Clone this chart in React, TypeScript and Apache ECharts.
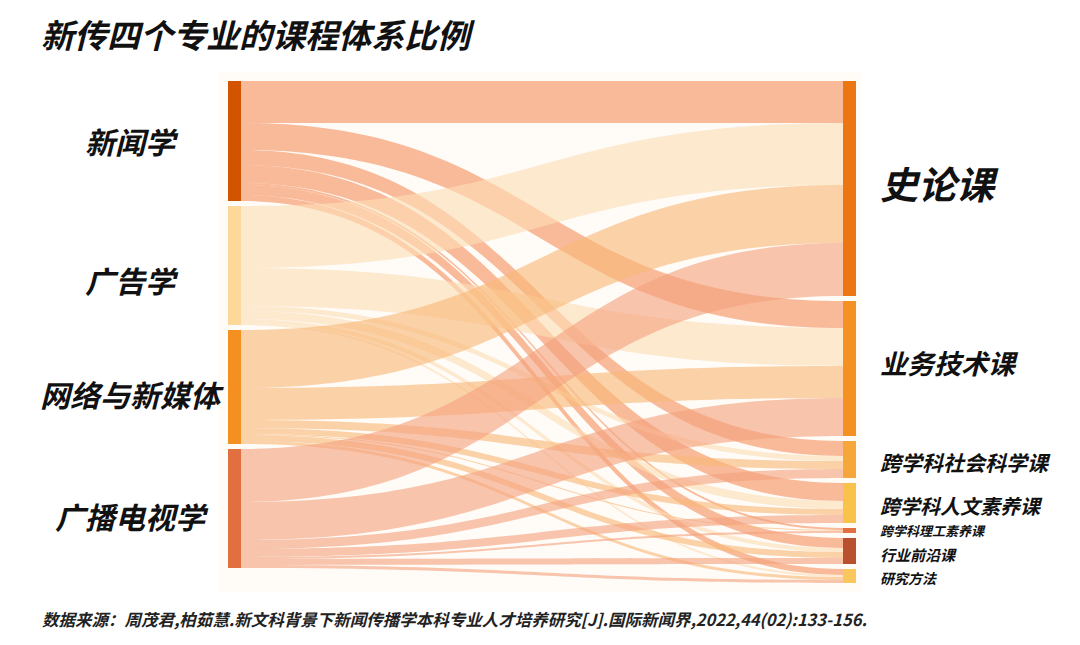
import React, { useEffect, useRef } from "react";
import * as echarts from "echarts";

const title = "新传四个专业的课程体系比例";
const footnote =
  "数据来源：周茂君,柏茹慧.新文科背景下新闻传播学本科专业人才培养研究[J].国际新闻界,2022,44(02):133-156.";

const majors = ["新闻学", "广告学", "网络与新媒体", "广播电视学"];
const courseTypes = [
  "史论课",
  "业务技术课",
  "跨学科社会科学课",
  "跨学科人文素养课",
  "跨学科理工素养课",
  "行业前沿课",
  "研究方法",
];

// flows from each major to each course type (same order as courseTypes)
const journalism = [42, 27, 15, 18, 2, 10, 6];
const advertising = [62, 38, 5, 8, 0, 4, 2];
const newMedia = [58, 32, 8, 6, 1, 6, 3];
const broadcasting = [53, 38, 9, 8, 2, 6, 3];
const flows = [journalism, advertising, newMedia, broadcasting];

const majorColors = ["#D35400", "#FDD89B", "#F39021", "#E0703F"];
const linkColors = ["#F59260", "#FCDDB5", "#F8B878", "#F4A27E"];
const courseColors = ["#EC7612", "#F39222", "#F5A73C", "#F9C34B", "#E27040", "#B9502F", "#F9C75E"];
const courseFontSizes = [38, 27, 21, 20, 13, 15, 14];
const majorLabelOffsets = [0, 14, 7, 7];
const courseLabelOffsets = [-6, -6, 2, 2, 0, 3, 2];

const FONT = "'Noto Sans CJK SC', 'Noto Sans', sans-serif";

export default function App() {
  const ref = useRef<HTMLDivElement>(null);
  useEffect(() => {
    if (!ref.current) return;
    const chart = echarts.init(ref.current, null, { renderer: "svg" });

    const nodes: any[] = [];
    majors.forEach((m, i) => {
      nodes.push({
        name: m,
        itemStyle: { color: majorColors[i] },
        label: {
          position: "left",
          distance: 98,
          align: "center",
          fontSize: 30,
          offset: [0, majorLabelOffsets[i]],
        },
      });
    });
    courseTypes.forEach((c, i) => {
      nodes.push({
        name: c,
        itemStyle: { color: courseColors[i] },
        label: {
          position: "right",
          distance: 24,
          align: "left",
          fontSize: courseFontSizes[i],
          offset: [0, courseLabelOffsets[i]],
        },
      });
    });

    const links: any[] = [];
    majors.forEach((m, i) => {
      flows[i].forEach((v, j) => {
        if (v > 0)
          links.push({
            source: m,
            target: courseTypes[j],
            value: v,
            lineStyle: { color: linkColors[i] },
          });
      });
    });

    chart.setOption({
      animation: false,
      backgroundColor: "#ffffff",
      title: {
        text: title,
        left: 36,
        top: 12,
        textStyle: {
          fontFamily: FONT,
          fontSize: 33,
          fontWeight: "bold",
          fontStyle: "italic",
          color: "#111111",
        },
      },
      graphic: [
        {
          type: "rect",
          z: -10,
          silent: true,
          shape: { x: 218, y: 72, width: 644, height: 520 },
          style: { fill: "#FFFBF7" },
        },
        {
          type: "text",
          left: 42,
          top: 611,
          style: {
            text: footnote,
            fontFamily: FONT,
            fontSize: 16.5,
            fontWeight: "bold",
            fontStyle: "italic",
            fill: "#222222",
          },
        },
      ],
      series: [
        {
          type: "sankey",
          left: 228,
          right: 224,
          top: 81,
          bottom: 62,
          nodeWidth: 13,
          nodeGap: 5,
          layoutIterations: 0,
          draggable: false,
          nodeAlign: "justify",
          data: nodes,
          links: links,
          label: {
            color: "#111111",
            fontFamily: FONT,
            fontWeight: "bold",
            fontStyle: "italic",
          },
          itemStyle: { borderWidth: 0 },
          lineStyle: { opacity: 0.62, curveness: 0.5 },
          emphasis: { disabled: true },
        },
      ],
    });
    return () => chart.dispose();
  }, []);
  return (
    <div
      ref={ref}
      style={{ position: "fixed", left: 0, top: 0, width: 1080, height: 645 }}
    />
  );
}
